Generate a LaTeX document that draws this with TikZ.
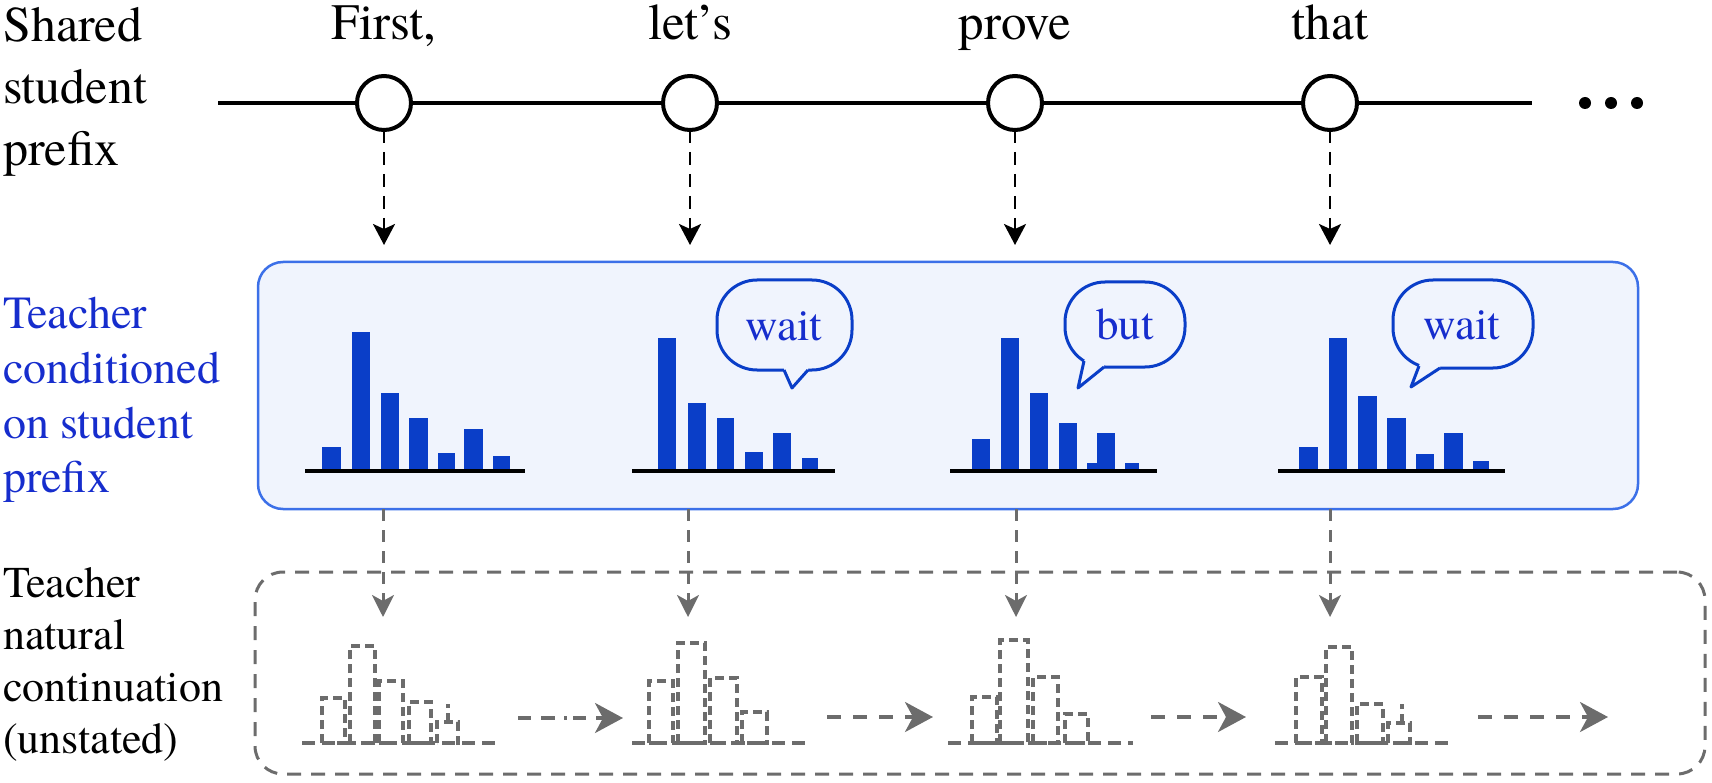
\documentclass[tikz,border=0pt]{standalone}
\usepackage{fontspec}
\newfontfamily\termesf{TeX Gyre Termes}
\usetikzlibrary{arrows.meta}
\definecolor{barblue}{RGB}{10,62,200}
\definecolor{txtblue}{RGB}{22,45,205}
\definecolor{boxblue}{RGB}{60,112,232}
\definecolor{boxfill}{RGB}{240,244,253}
\definecolor{grayc}{RGB}{108,108,108}
\begin{document}
\begin{tikzpicture}[x=1pt,y=-1pt,
  toplbl/.style={anchor=base west,inner sep=0pt,font=\termesf\fontsize{50}{60}\selectfont},
  bluelbl/.style={anchor=base west,inner sep=0pt,text=txtblue,font=\termesf\fontsize{46}{55}\selectfont},
  graylbl/.style={anchor=base west,inner sep=0pt,font=\termesf\fontsize{44}{52}\selectfont},
  token/.style={anchor=base,inner sep=0pt,font=\termesf\fontsize{51}{60}\selectfont},
  tokcirc/.style={circle,draw=black,fill=white,line width=4pt,minimum size=54pt,inner sep=0pt,outer sep=0pt},
  toparrow/.style={draw=black,line width=2.5pt,dash pattern=on 13pt off 9pt,-{Stealth[length=21pt,width=22pt,inset=5pt]}},
  grayarrow/.style={draw=grayc,line width=3pt,dash pattern=on 12pt off 9pt,-{Stealth[length=22pt,width=22pt,inset=6pt]}},
  harrow/.style={draw=grayc,line width=3.5pt,dash pattern=on 14pt off 12pt,-{Stealth[length=28pt,width=30pt,inset=8pt]}},
  bubble/.style={draw=barblue,line width=3pt,fill=boxfill,rounded corners=40pt},
  bubtxt/.style={text=txtblue,inner sep=0pt,font=\termesf\fontsize{45}{50}\selectfont},
  gbar/.style={draw=grayc,line width=3.5pt,dash pattern=on 9pt off 5pt},
  gbase/.style={draw=grayc,line width=3.5pt,dash pattern=on 13pt off 7pt},
  bbase/.style={draw=black,line width=3.5pt},
]
\useasboundingbox (0,0) rectangle (1712,783);

% left labels
\node[toplbl] (la1) at (3,42) {Shared};
\node[toplbl] (la2) at (3,104) {student};
\node[toplbl] (la3) at (3,166) {prefix};
\node[bluelbl] (lb1) at (3,329) {Teacher};
\node[bluelbl] (lb2) at (3,383.5) {conditioned};
\node[bluelbl] (lb3) at (3,438) {on student};
\node[bluelbl] (lb4) at (3,492.5) {prefix};
\node[graylbl] (lc1) at (3,597) {Teacher};
\node[graylbl] (lc2) at (3,649) {natural};
\node[graylbl] (lc3) at (3,701) {continuation};
\node[graylbl] (lc4) at (3,753) {(unstated)};

% boxes
\node[draw=grayc,line width=3pt,dash pattern=on 14pt off 10pt,rounded corners=28pt,
      minimum width=1450pt,minimum height=202pt,inner sep=0pt,outer sep=0pt] (gbox) at (980,673) {};
\node[draw=boxblue,fill=boxfill,line width=2.5pt,rounded corners=25pt,
      minimum width=1380pt,minimum height=247pt,inner sep=0pt,outer sep=0pt] (tbox) at (948,385.5) {};

% timeline
\coordinate (lstart) at (218,103);
\coordinate (lend) at (1532,103);
\draw[line width=4pt] (lstart) -- (lend);
\node[tokcirc] (c1) at (384,103) {};
\node[tokcirc] (c2) at (690,103) {};
\node[tokcirc] (c3) at (1015,103) {};
\node[tokcirc] (c4) at (1330,103) {};
\node[token] (w1) at (384,40) {First,};
\node[token] (w2) at (690,40) {let’s};
\node[token] (w3) at (1015,40) {prove};
\node[token] (w4) at (1330,40) {that};
\fill (1585,103) circle (6);
\fill (1611,103) circle (6);
\fill (1637,103) circle (6);

% top arrows
\coordinate (t1) at (384,245);
\coordinate (t2) at (690,245);
\coordinate (t3) at (1015,245);
\coordinate (t4) at (1330,245);
\draw[toparrow] (c1.south) -- (t1);
\draw[toparrow] (c2.south) -- (t2);
\draw[toparrow] (c3.south) -- (t3);
\draw[toparrow] (c4.south) -- (t4);

% blue histograms
\foreach \a/\b/\t in {322/341/447,352/370/332,381/399/393,409/428/418,438/455/453,464/483/429,493/510/456}
  \fill[barblue] (\a,\t) rectangle (\b,471);
\draw[bbase] (305,471) -- (525,471);
\foreach \a/\b/\t in {658/676/338,688/706/403,717/734/418,745/763/452,773/791/433,802/818/458}
  \fill[barblue] (\a,\t) rectangle (\b,471);
\draw[bbase] (632,471) -- (835,471);
\foreach \a/\b/\t in {972/990/439,1001/1019/338,1030/1048/393,1059/1077/423,1087/1097/463,1097/1115/433,1125/1139/463}
  \fill[barblue] (\a,\t) rectangle (\b,471);
\draw[bbase] (950,471) -- (1157,471);
\foreach \a/\b/\t in {1299/1318/447,1329/1347/338,1358/1377/396,1387/1406/418,1416/1434/454,1444/1463/433,1473/1489/461}
  \fill[barblue] (\a,\t) rectangle (\b,471);
\draw[bbase] (1278,471) -- (1505,471);

% bubbles
\draw[bubble] (717,280) rectangle (852,370);
\fill[boxfill] (784,370) -- (792,388) -- (808,370) -- (808,365) -- (784,365) -- cycle;
\draw[draw=barblue,line width=3pt,line join=round] (784,370) -- (792,388) -- (808,370);
\node[bubtxt] (bt1) at (784,326) {wait};

\draw[bubble] (1065,282) rectangle (1185,367);
\fill[boxfill] (1084,361) -- (1078,388) -- (1104,367) -- (1104,360) -- (1088,355) -- cycle;
\draw[draw=barblue,line width=3pt,line join=round] (1084,361) -- (1078,388) -- (1104,367);
\node[bubtxt] (bt2) at (1125,324) {but};

\draw[bubble] (1393,280) rectangle (1533,368);
\fill[boxfill] (1419,366) -- (1411,387) -- (1440,368) -- (1440,362) -- (1421,360) -- cycle;
\draw[draw=barblue,line width=3pt,line join=round] (1419,366) -- (1411,387) -- (1440,368);
\node[bubtxt] (bt3) at (1462,325) {wait};

% gray down arrows
\coordinate (g1) at (383,617);
\coordinate (g2) at (688,617);
\coordinate (g3) at (1016,617);
\coordinate (g4) at (1330,617);
\draw[grayarrow] (g1 |- tbox.south) -- (g1);
\draw[grayarrow] (g2 |- tbox.south) -- (g2);
\draw[grayarrow] (g3 |- tbox.south) -- (g3);
\draw[grayarrow] (g4 |- tbox.south) -- (g4);

% gray histograms
\draw[gbase] (302,743) -- (498,743);
\foreach \a/\b/\t in {322/345/698,350/375/646,379/403/681,409/431/702,437/458/722}
  \draw[gbar] (\a,743) rectangle (\b,\t);
\draw[gbar] (448,722) -- (448,704);
\draw[gbase] (632,743) -- (812,743);
\foreach \a/\b/\t in {649/673/681,678/705/643,710/737/678,742/767/712}
  \draw[gbar] (\a,743) rectangle (\b,\t);
\draw[gbase] (948,743) -- (1133,743);
\foreach \a/\b/\t in {972/997/697,1000/1028/640,1033/1058/677,1065/1088/714}
  \draw[gbar] (\a,743) rectangle (\b,\t);
\draw[gbase] (1275,743) -- (1455,743);
\foreach \a/\b/\t in {1296/1322/677,1326/1352/647,1357/1383/704,1388/1410/723}
  \draw[gbar] (\a,743) rectangle (\b,\t);
\draw[gbar] (1402,723) -- (1402,704);

% horizontal arrows
\coordinate (h1a) at (518,718);
\coordinate (h1b) at (623,718);
\coordinate (h2a) at (827,717);
\coordinate (h2b) at (933,717);
\coordinate (h3a) at (1151,717);
\coordinate (h3b) at (1246,717);
\coordinate (h4a) at (1478,717);
\coordinate (h4b) at (1608,717);
\draw[harrow,dash pattern=on 13pt off 10pt on 14pt off 9pt on 3pt off 6pt] (h1a) -- (h1b);
\draw[harrow] (h2a) -- (h2b);
\draw[harrow] (h3a) -- (h3b);
\draw[harrow] (h4a) -- (h4b);
\end{tikzpicture}
\end{document}
